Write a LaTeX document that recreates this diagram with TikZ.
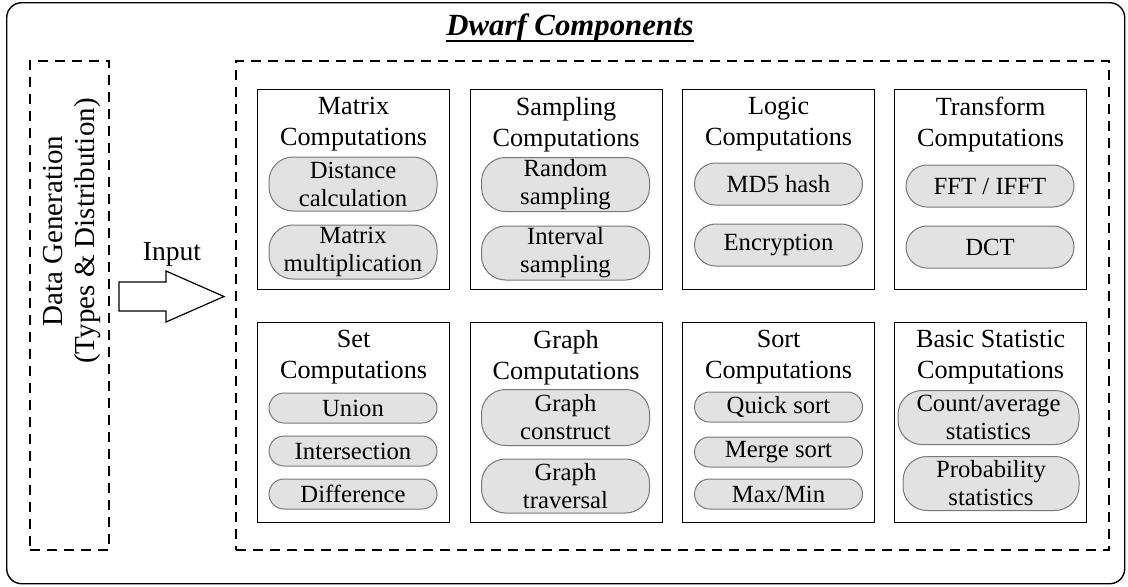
\documentclass[tikz,border=0pt]{standalone}
\usepackage{fontspec}
\setmainfont{Liberation Serif}
\definecolor{pillfill}{RGB}{226,226,226}
\definecolor{pillline}{RGB}{120,120,120}
\begin{document}
\begin{tikzpicture}[x=0.5pt,y=-0.5pt,
  dbox/.style={draw, dash pattern=on 5pt off 3.5pt, line width=1pt, inner sep=0, anchor=north west},
  cbox/.style={draw, line width=0.6pt, minimum width=96pt, minimum height=100pt, inner sep=0, anchor=north west},
  ttl/.style={anchor=north, inner sep=0, align=center, font=\fontsize{13.1}{15.5}\selectfont},
  pill/.style={draw=pillline, fill=pillfill, line width=0.5pt, inner sep=0, align=center,
               minimum width=84pt, font=\fontsize{12.35}{14}\selectfont},
  p1/.style={pill, minimum height=15pt, rounded corners=7.5pt},
  p2/.style={pill, minimum height=21pt, rounded corners=10.5pt},
  p3/.style={pill, minimum height=27pt, rounded corners=12pt},
]
\useasboundingbox (0,0) rectangle (1128,586);
% outer frame
\node[draw, line width=0.7pt, rounded corners=7.5pt, minimum width=559pt, minimum height=290.5pt,
      inner sep=0, anchor=north west] (frame) at (6,2) {};
% title
\node[anchor=base, inner sep=0, font=\fontsize{15.4}{18}\selectfont\bfseries\itshape] (title) at (570,35) {Dwarf Components};
\draw[line width=0.6pt] ([yshift=-3pt]title.base west) -- ([yshift=-3pt]title.base east);
% data generation box
\node[dbox, minimum width=39.5pt, minimum height=244.5pt] (dg) at (29,60) {};
\node[rotate=90, align=center, inner sep=0, font=\fontsize{14.5}{16}\selectfont] (dgt) at (72,231) {Data Generation\\(Types \& Distribution)};
% main box
\node[dbox, minimum width=436.5pt, minimum height=244.5pt] (main) at (235,60) {};
% input arrow
\node[anchor=base, inner sep=0, font=\fontsize{13.8}{16}\selectfont] (inp) at (172,260) {Input};
\draw[line width=0.6pt, fill=white] (119,282) -- (166,282) -- (166,271) -- (224,296.5) -- (166,322) -- (166,311) -- (119,311) -- cycle;
% top row
\node[cbox] (mat) at (257,89) {};
\node[ttl] at ([yshift=-4pt]mat.north) {Matrix\\Computations};
\node[p3] (m1) at (353,184) {Distance\\calculation};
\node[p3] (m2) at (353,252) {Matrix\\multiplication};

\node[cbox] (smp) at (469.5,89) {};
\node[ttl] at ([yshift=-4pt]smp.north) {Sampling\\Computations};
\node[p3] (s1) at (565.5,184.5) {Random\\sampling};
\node[p3] (s2) at (565.5,253) {Interval\\sampling};

\node[cbox] (lgc) at (682,89) {};
\node[ttl] at ([yshift=-4pt]lgc.north) {Logic\\Computations};
\node[p2] (l1) at (778.5,184) {MD5 hash};
\node[p2] (l2) at (778.5,245) {Encryption};

\node[cbox] (trf) at (894,89) {};
\node[ttl] at ([yshift=-4pt]trf.north) {Transform\\Computations};
\node[p2] (t1) at (990,186) {FFT / IFFT};
\node[p2] (t2) at (990,247) {DCT};
% bottom row
\node[cbox] (set) at (257,322) {};
\node[ttl] at ([yshift=-4pt]set.north) {Set\\Computations};
\node[p1] (u1) at (353,408) {Union};
\node[p1] (u2) at (353,451) {Intersection};
\node[p1] (u3) at (353,494) {Difference};

\node[cbox] (gph) at (469.5,322) {};
\node[ttl] at ([yshift=-4pt]gph.north) {Graph\\Computations};
\node[p3, minimum height=28pt] (g1) at (565.5,417.5) {Graph\\construct};
\node[p3] (g2) at (565.5,486) {Graph\\traversal};

\node[cbox] (srt) at (682,322) {};
\node[ttl] at ([yshift=-4pt]srt.north) {Sort\\Computations};
\node[p1] (o1) at (778.5,407) {Quick sort};
\node[p1] (o2) at (778.5,452) {Merge sort};
\node[p1] (o3) at (778.5,494) {Max/Min};

\node[cbox] (bst) at (894,322) {};
\node[ttl] at ([yshift=-4pt]bst.north) {Basic Statistic\\Computations};
\node[p3, minimum width=90.5pt] (b1) at (988.5,417.5) {Count/average\\statistics};
\node[p3, minimum width=88pt] (b2) at (991,483.5) {Probability\\statistics};
\end{tikzpicture}
\end{document}
